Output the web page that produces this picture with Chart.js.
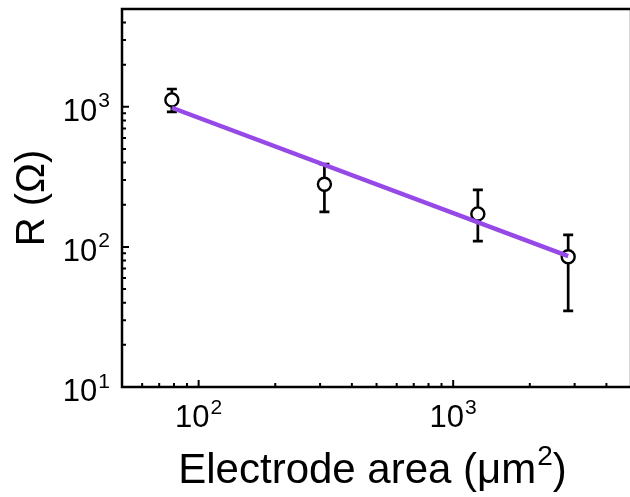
<!DOCTYPE html>
<html>
<head>
<meta charset="utf-8">
<title>R vs electrode area</title>
<script src="https://cdn.jsdelivr.net/npm/chart.js@4.4.1/dist/chart.umd.min.js"></script>
<style>
  html, body { margin: 0; padding: 0; background: #fff; overflow: hidden; }
  #wrap { width: 640px; height: 497px; position: relative; }
</style>
</head>
<body>
<div id="wrap"><canvas id="chart"></canvas></div>
<script>
// measured points (electrode area in um^2, resistance in ohm)
const areas = [78.5, 312, 1250, 2830];
const resistance = [1120, 280, 172, 85];
const errHigh = [1340, 390, 255, 122];
const errLow = [920, 178, 110, 35];

// fitted line end points
const fitAreas = [78.5, 2830];
const fitResistance = [985, 86];

// axis ranges and labelled ticks
const xRange = [50, 5000];
const yRange = [10, 5000];
const xMajorTicks = [100, 1000];
const yMajorTicks = [10, 100, 1000];

const FONT = "'Liberation Sans', Arial, sans-serif";

function minorTicks(range) {
  const out = [];
  for (let d = 1; d <= 1000; d *= 10) {
    for (let m = 2; m <= 9; m++) {
      const v = m * d;
      if (v > range[0] && v < range[1]) out.push(v);
    }
  }
  return out;
}

// text with a raised part, e.g. 10 + "3"
function drawSup(ctx, base, sup, tail, x, baseline, align, size, supSize, rise) {
  ctx.font = `${size}px ${FONT}`;
  const wBase = ctx.measureText(base).width;
  const wTail = ctx.measureText(tail).width;
  ctx.font = `${supSize}px ${FONT}`;
  const wSup = ctx.measureText(sup).width;
  const total = wBase + 1 + wSup + wTail;
  const left = align === "center" ? x - total / 2 : x - total;
  ctx.textAlign = "left";
  ctx.textBaseline = "alphabetic";
  ctx.fillStyle = "#000";
  ctx.font = `${size}px ${FONT}`;
  ctx.fillText(base, left, baseline);
  if (tail) ctx.fillText(tail, left + wBase + 1 + wSup, baseline);
  ctx.font = `${supSize}px ${FONT}`;
  ctx.fillText(sup, left + wBase + 1, baseline - rise);
}

const frame = {
  id: "frame",
  beforeDatasetsDraw(chart) {
    const { ctx, scales: { x, y } } = chart;
    ctx.save();
    ctx.strokeStyle = "#000";
    ctx.lineWidth = 2.7;
    areas.forEach((a, i) => {
      const px = x.getPixelForValue(a);
      const top = y.getPixelForValue(errHigh[i]);
      const bot = y.getPixelForValue(errLow[i]);
      ctx.beginPath();
      ctx.moveTo(px, top); ctx.lineTo(px, bot);
      ctx.moveTo(px - 5, top); ctx.lineTo(px + 5, top);
      ctx.moveTo(px - 5, bot); ctx.lineTo(px + 5, bot);
      ctx.stroke();
    });
    ctx.restore();
  },
  afterDraw(chart) {
    const { ctx, chartArea: area, scales: { x, y } } = chart;
    ctx.save();
    ctx.strokeStyle = "#000";
    ctx.lineWidth = 2.5;
    ctx.beginPath();
    ctx.moveTo(area.left, area.top);
    ctx.lineTo(area.left, area.bottom);
    ctx.lineTo(area.right, area.bottom);
    ctx.lineTo(area.right, area.top);
    ctx.closePath();
    ctx.stroke();

    ctx.lineWidth = 2;
    ctx.beginPath();
    yMajorTicks.forEach(v => {
      const py = y.getPixelForValue(v);
      ctx.moveTo(area.left, py); ctx.lineTo(area.left + 7, py);
    });
    minorTicks(yRange).forEach(v => {
      const py = y.getPixelForValue(v);
      ctx.moveTo(area.left, py); ctx.lineTo(area.left + 4, py);
    });
    xMajorTicks.forEach(v => {
      const px = x.getPixelForValue(v);
      ctx.moveTo(px, area.bottom); ctx.lineTo(px, area.bottom - 7);
    });
    minorTicks(xRange).forEach(v => {
      const px = x.getPixelForValue(v);
      ctx.moveTo(px, area.bottom); ctx.lineTo(px, area.bottom - 4);
    });
    ctx.stroke();

    // tick labels 10^n
    yMajorTicks.forEach(v => {
      const py = y.getPixelForValue(v);
      drawSup(ctx, "10", String(Math.round(Math.log10(v))), "", area.left - 12, py + 14, "right", 31, 21, 13.5);
    });
    xMajorTicks.forEach(v => {
      const px = x.getPixelForValue(v);
      drawSup(ctx, "10", String(Math.round(Math.log10(v))), "", px, area.bottom + 40, "center", 31, 21, 13.5);
    });

    // x axis title
    drawSup(ctx, "Electrode area (\u03bcm", "2", ")", (area.left + area.right) / 2 - 4, 483, "center", 42, 28, 18);
    ctx.restore();
  }
};

new Chart(document.getElementById("chart"), {
  type: "scatter",
  data: {
    datasets: [
      {
        label: "fit",
        type: "line",
        data: fitAreas.map((v, i) => ({ x: v, y: fitResistance[i] })),
        borderColor: "#9749e8",
        borderWidth: 4.5,
        pointRadius: 0,
        fill: false
      },
      {
        label: "R",
        data: areas.map((v, i) => ({ x: v, y: resistance[i] })),
        pointRadius: 6.5,
        pointBorderWidth: 2.4,
        pointBorderColor: "#000",
        pointBackgroundColor: "#fff",
        showLine: false
      }
    ]
  },
  options: {
    responsive: true,
    maintainAspectRatio: false,
    animation: false,
    layout: { padding: { top: 8, right: 4, left: 0, bottom: 0 } },
    plugins: { legend: { display: false }, tooltip: { enabled: false } },
    scales: {
      x: {
        type: "logarithmic",
        min: xRange[0],
        max: xRange[1],
        grid: { display: false, drawTicks: false },
        border: { display: false },
        afterBuildTicks: s => { s.ticks = xMajorTicks.map(v => ({ value: v })); },
        afterFit: s => { s.height = 110; s.paddingLeft = 0; s.paddingRight = 0; },
        ticks: { display: false }
      },
      y: {
        type: "logarithmic",
        min: yRange[0],
        max: yRange[1],
        grid: { display: false, drawTicks: false },
        border: { display: false },
        afterBuildTicks: s => { s.ticks = yMajorTicks.map(v => ({ value: v })); },
        afterFit: s => { s.width = 122; s.paddingTop = 0; s.paddingBottom = 0; },
        ticks: { display: false },
        title: {
          display: true,
          text: "R (\u03a9)",
          color: "#000",
          font: { family: FONT, size: 40 },
          padding: { top: 9, bottom: 0 }
        }
      }
    }
  },
  plugins: [frame]
});
</script>
</body>
</html>
